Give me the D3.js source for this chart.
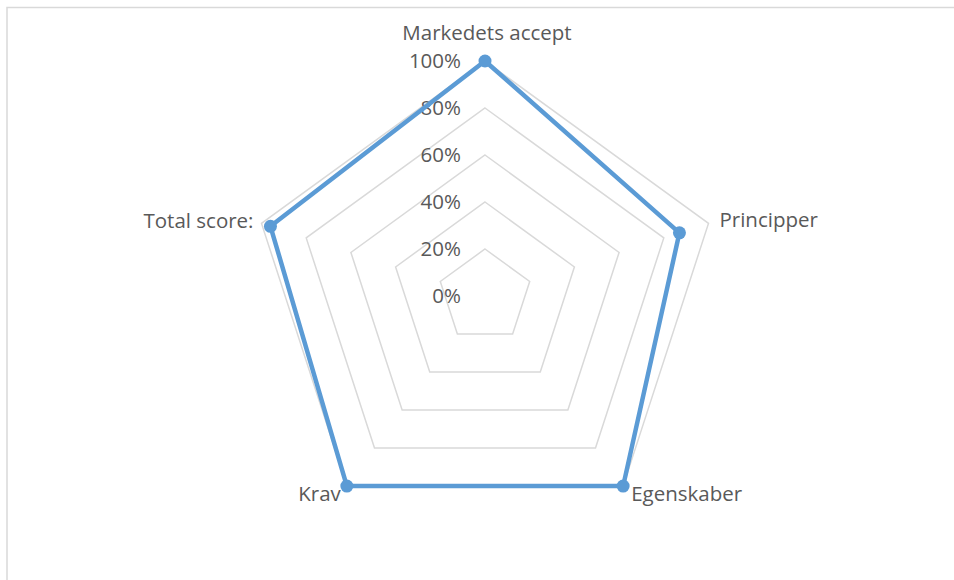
<!DOCTYPE html>
<html>
<head>
<meta charset="utf-8">
<script src="https://cdn.jsdelivr.net/npm/d3@7"></script>
<style>
  body { margin: 0; background: #fff; }
  svg { display: block; }
  text { font-family: "Open Sans", "Liberation Sans", sans-serif; fill: #595959; }
</style>
</head>
<body>
<div id="chart"></div>
<script>
// data
const axes = ['Markedets accept', 'Principper', 'Egenskaber', 'Krav', 'Total score:'];
const values = [1.0, 0.87, 1.0, 1.0, 0.96];
const ticks = [0, 0.2, 0.4, 0.6, 0.8, 1.0];

const width = 954;
const height = 580;
const cx = 485;
const cy = 296;
const radius = 235;
const fontSize = 20.5;

const svg = d3.select('#chart').append('svg')
    .attr('width', width)
    .attr('height', height);

// chart frame (right and bottom run off the page)
svg.append('rect')
    .attr('x', 7)
    .attr('y', 7.5)
    .attr('width', 960)
    .attr('height', 600)
    .attr('fill', 'none')
    .attr('stroke', '#d9d9d9')
    .attr('stroke-width', 1.5);

const r = d3.scaleLinear().domain([0, 1]).range([0, radius]);
const angle = d3.scalePoint().domain(axes).range([0, 2 * Math.PI * (axes.length - 1) / axes.length]);

const pt = (a, v) => [cx + r(v) * Math.sin(angle(a)), cy - r(v) * Math.cos(angle(a))];

const g = svg.append('g');

// grid rings
g.selectAll('path.ring')
    .data(ticks.filter(t => t > 0))
    .join('path')
    .attr('class', 'ring')
    .attr('fill', 'none')
    .attr('stroke', '#d9d9d9')
    .attr('stroke-width', 1.5)
    .attr('d', t => d3.line()(axes.map(a => pt(a, t))) + 'Z');

// tick labels
g.selectAll('text.tick')
    .data(ticks)
    .join('text')
    .attr('class', 'tick')
    .attr('x', cx - 24)
    .attr('y', t => cy - r(t))
    .attr('dy', '0.35em')
    .attr('text-anchor', 'end')
    .attr('font-size', fontSize)
    .text(d3.format('.0%'));

// series
const line = d3.line();
g.append('path')
    .attr('fill', 'none')
    .attr('stroke', '#5b9bd5')
    .attr('stroke-width', 4.5)
    .attr('stroke-linejoin', 'round')
    .attr('d', line(axes.map((a, i) => pt(a, values[i]))) + 'Z');

g.selectAll('circle')
    .data(axes)
    .join('circle')
    .attr('cx', (a, i) => pt(a, values[i])[0])
    .attr('cy', (a, i) => pt(a, values[i])[1])
    .attr('r', 6.5)
    .attr('fill', '#5b9bd5');

// category labels
const labelPos = {
    'Markedets accept': { dx: 2, dy: -28, anchor: 'middle' },
    'Principper': { dx: 11, dy: -4, anchor: 'start' },
    'Egenskaber': { dx: 8, dy: 8, anchor: 'start' },
    'Krav': { dx: -6, dy: 8, anchor: 'end' },
    'Total score:': { dx: -8, dy: -3, anchor: 'end' },
};
g.selectAll('text.cat')
    .data(axes)
    .join('text')
    .attr('class', 'cat')
    .attr('x', a => pt(a, 1)[0] + labelPos[a].dx)
    .attr('y', a => pt(a, 1)[1] + labelPos[a].dy)
    .attr('dy', '0.35em')
    .attr('text-anchor', a => labelPos[a].anchor)
    .attr('font-size', fontSize)
    .text(a => a);
</script>
</body>
</html>
